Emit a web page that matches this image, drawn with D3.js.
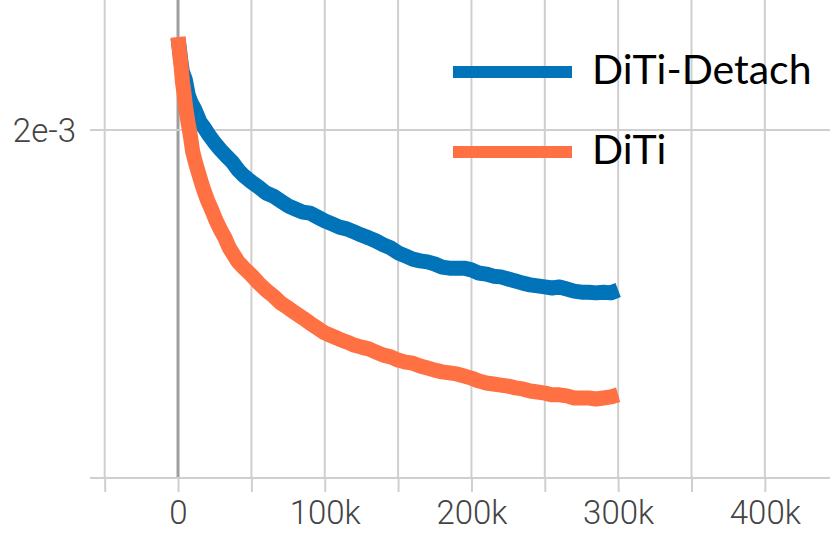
<!DOCTYPE html>
<html>
<head>
<meta charset="utf-8">
<script src="https://cdn.jsdelivr.net/npm/d3@7"></script>
<style>
  html, body { margin: 0; padding: 0; background: #fff; }
  #chart { width: 830px; height: 549px; overflow: hidden; }
</style>
</head>
<body>
<div id="chart"></div>
<script>
// training steps in thousands
var steps = [0, 1, 2, 3, 5, 7, 9, 11, 13, 15, 18, 21, 25, 29, 33, 37, 41, 45,
    50, 55, 60, 65, 70, 75, 80, 85, 90, 95, 100, 105, 110, 115, 120, 125, 130,
    135, 140, 145, 150, 155, 160, 165, 170, 175, 180, 185, 190, 195, 200, 205,
    210, 215, 220, 225, 230, 235, 240, 245, 250, 255, 260, 265, 270, 275, 280,
    285, 290, 295, 300];

// loss values, in units of 1e-3
var detachLoss = [2.264, 2.23, 2.195, 2.167, 2.144, 2.10, 2.078, 2.063, 2.043,
    2.023, 2.006, 1.986, 1.963, 1.943, 1.925, 1.908, 1.885, 1.868, 1.851, 1.836,
    1.819, 1.810, 1.796, 1.782, 1.773, 1.764, 1.761, 1.750, 1.739, 1.730, 1.721,
    1.716, 1.707, 1.698, 1.690, 1.681, 1.670, 1.661, 1.647, 1.638, 1.629, 1.624,
    1.621, 1.615, 1.606, 1.603, 1.603, 1.603, 1.598, 1.589, 1.586, 1.580, 1.578,
    1.572, 1.566, 1.560, 1.555, 1.552, 1.549, 1.546, 1.549, 1.543, 1.537, 1.534,
    1.534, 1.532, 1.534, 1.532, 1.540];

var ditiSteps = [0, 1, 2, 3, 4, 5, 6, 7, 8, 9, 10, 12, 14, 16, 18, 20, 23, 26,
    29, 32, 35, 38, 41, 45, 50, 55, 60, 65, 70, 75, 80, 85, 90, 95, 100, 105,
    110, 115, 120, 125, 130, 135, 140, 145, 150, 155, 160, 165, 170, 175, 180,
    185, 190, 195, 200, 205, 210, 215, 220, 225, 230, 235, 240, 245, 250, 255,
    260, 265, 270, 275, 280, 285, 290, 295, 300];

var ditiLoss = [2.267, 2.224, 2.187, 2.138, 2.109, 2.072, 2.043, 2.017, 1.994,
    1.966, 1.937, 1.905, 1.876, 1.848, 1.822, 1.799, 1.770, 1.739, 1.713, 1.690,
    1.661, 1.641, 1.621, 1.603, 1.583, 1.560, 1.540, 1.523, 1.503, 1.489, 1.474,
    1.460, 1.445, 1.431, 1.417, 1.408, 1.399, 1.391, 1.382, 1.376, 1.371, 1.362,
    1.353, 1.348, 1.339, 1.333, 1.330, 1.322, 1.316, 1.310, 1.305, 1.302, 1.299,
    1.293, 1.287, 1.279, 1.273, 1.270, 1.267, 1.264, 1.259, 1.256, 1.250, 1.247,
    1.244, 1.239, 1.239, 1.236, 1.230, 1.230, 1.230, 1.227, 1.230, 1.233, 1.239];

var xTicks = [-50, 0, 50, 100, 150, 200, 250, 300, 350, 400];
var xLabels = [0, 100, 200, 300, 400];
var yTicks = [2.0];

var seriesNames = ["DiTi-Detach", "DiTi"];
var seriesColors = ["#0173b9", "#ff7043"];

var width = 830;
var height = 549;
var gridColor = "#cfcfcf";

var svg = d3.select("#chart").append("svg")
    .attr("width", width)
    .attr("height", height);

var x = d3.scaleLinear().domain([-60, 444.4]).range([90, 830]);
var y = d3.scaleLinear().domain([1.0, 2.0]).range([478, 130]);

// vertical grid
svg.selectAll("line.vgrid")
    .data(xTicks).enter().append("line")
    .attr("class", "vgrid")
    .attr("x1", d => x(d)).attr("x2", d => x(d))
    .attr("y1", 0).attr("y2", 478)
    .style("stroke", d => d === 0 ? "#9e9e9e" : gridColor)
    .style("stroke-width", d => d === 0 ? 3 : 2);

// horizontal grid
svg.selectAll("line.hgrid")
    .data(yTicks).enter().append("line")
    .attr("class", "hgrid")
    .attr("x1", 90).attr("x2", width)
    .attr("y1", d => y(d)).attr("y2", d => y(d))
    .style("stroke", gridColor).style("stroke-width", 2);

// x axis
var xAxis = d3.axisBottom(x)
    .tickValues(xTicks)
    .tickSize(14)
    .tickFormat(d => xLabels.indexOf(d) >= 0 ? (d === 0 ? "0" : d + "k") : "");

var gx = svg.append("g").attr("transform", "translate(0,478)").call(xAxis);
gx.select(".domain").style("stroke", gridColor).style("stroke-width", 2)
    .attr("d", "M90,0H" + width);
gx.selectAll(".tick line").style("stroke", gridColor).style("stroke-width", 2);
gx.selectAll(".tick text")
    .attr("y", 46)
    .attr("dy", 0)
    .style("font-family", "Roboto, sans-serif")
    .style("font-weight", 300)
    .style("font-size", "33px")
    .style("fill", "#444");

// y labels
svg.selectAll("text.ylab")
    .data(yTicks).enter().append("text")
    .attr("class", "ylab")
    .attr("x", 76).attr("y", d => y(d) + 12)
    .attr("text-anchor", "end")
    .style("font-family", "Roboto, sans-serif")
    .style("font-weight", 300)
    .style("font-size", "33px")
    .style("fill", "#444")
    .text("2e-3");

var line = d3.line().x(d => x(d[0])).y(d => y(d[1]));

var series = [
    d3.zip(steps, detachLoss),
    d3.zip(ditiSteps, ditiLoss)
];

svg.selectAll("path.loss")
    .data(series).enter().append("path")
    .attr("class", "loss")
    .attr("d", line)
    .style("fill", "none")
    .style("stroke", (d, i) => seriesColors[i])
    .style("stroke-width", 15)
    .style("stroke-linejoin", "round")
    .style("stroke-linecap", "butt");

// legend
var legend = svg.append("g");
var legendY = [72, 152];
legend.selectAll("line")
    .data(seriesNames).enter().append("line")
    .attr("x1", 453).attr("x2", 572)
    .attr("y1", (d, i) => legendY[i]).attr("y2", (d, i) => legendY[i])
    .style("stroke", (d, i) => seriesColors[i])
    .style("stroke-width", 12);
legend.selectAll("text")
    .data(seriesNames).enter().append("text")
    .attr("x", 592)
    .attr("y", (d, i) => legendY[i] + 12)
    .style("font-family", "Lato, 'Open Sans', sans-serif")
    .style("font-size", "41px")
    .style("fill", "#000")
    .text(d => d);
</script>
</body>
</html>
